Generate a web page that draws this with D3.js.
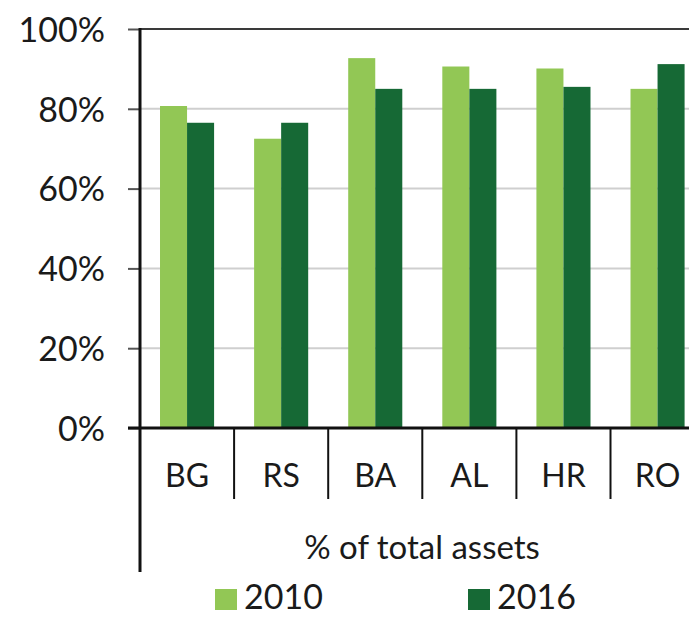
<!DOCTYPE html>
<html>
<head>
<meta charset="utf-8">
<script src="https://cdn.jsdelivr.net/npm/d3@7"></script>
<style>
  body { margin: 0; background: #fff; }
  text { font-family: "Lato", "Noto Sans", sans-serif; fill: #1a1a1a; }
</style>
</head>
<body>
<div id="chart"></div>
<script>
// data
const categories = ["BG", "RS", "BA", "AL", "HR", "RO"];
const seriesNames = ["2010", "2016"];
const values2010 = [80.7, 72.5, 92.7, 90.6, 90.1, 85.0];
const values2016 = [76.5, 76.5, 85.0, 85.0, 85.5, 91.2];
const yTicks = [0, 20, 40, 60, 80, 100];
const xTitle = "% of total assets";

const colors = { "2010": "#92c755", "2016": "#166935" };

function drawChart() {
  const width = 689, height = 617;
  const margin = { top: 29, left: 140, bottom: 189 };
  const plotBottom = height - margin.bottom; // 428

  const svg = d3.select("#chart").append("svg")
    .attr("width", width)
    .attr("height", height);

  const rows = categories.map((c, i) => ({ cat: c, "2010": values2010[i], "2016": values2016[i] }));

  const y = d3.scaleLinear().domain([0, 100]).range([plotBottom, margin.top]);

  // bands are 94px wide; the last one runs past the right edge
  const step = 94.1;
  const x = d3.scaleBand()
    .domain(categories)
    .range([margin.left, margin.left + step * categories.length])
    .padding(0);

  const xInner = d3.scaleBand()
    .domain(seriesNames)
    .range([0, x.bandwidth()])
    .paddingInner(0)
    .paddingOuter(0.74);

  // gridlines
  svg.append("g")
    .selectAll("line")
    .data(yTicks.filter(t => t > 0))
    .join("line")
    .attr("x1", margin.left)
    .attr("x2", width)
    .attr("y1", d => y(d))
    .attr("y2", d => y(d))
    .attr("stroke", d => d === 100 ? "#3a3a3a" : "#cfcfcf")
    .attr("stroke-width", 2);

  // bars
  svg.append("g")
    .selectAll("g")
    .data(rows)
    .join("g")
    .attr("transform", d => `translate(${x(d.cat)},0)`)
    .selectAll("rect")
    .data(d => seriesNames.map(s => ({ key: s, value: d[s] })))
    .join("rect")
    .attr("x", d => xInner(d.key))
    .attr("width", xInner.bandwidth())
    .attr("y", d => y(d.value))
    .attr("height", d => y(0) - y(d.value))
    .attr("fill", d => colors[d.key]);

  // y axis
  const yAxis = svg.append("g")
    .attr("transform", `translate(${margin.left},0)`)
    .call(d3.axisLeft(y).tickValues(yTicks).tickFormat(d => d + "%").tickSize(12).tickPadding(23));
  yAxis.select(".domain").remove();
  yAxis.selectAll(".tick line").attr("stroke", "#555").attr("stroke-width", 2);
  yAxis.selectAll(".tick text")
    .attr("font-size", 34)
    .attr("dy", "0.36em")
    .attr("fill", "#1a1a1a");

  // left axis line running down through the label area
  svg.append("line")
    .attr("x1", margin.left).attr("x2", margin.left)
    .attr("y1", margin.top - 1).attr("y2", 572)
    .attr("stroke", "#111").attr("stroke-width", 3);

  // baseline
  svg.append("line")
    .attr("x1", margin.left - 12).attr("x2", width)
    .attr("y1", plotBottom).attr("y2", plotBottom)
    .attr("stroke", "#111").attr("stroke-width", 3);

  // category separators
  svg.append("g")
    .selectAll("line")
    .data(categories.slice(1))
    .join("line")
    .attr("x1", d => x(d)).attr("x2", d => x(d))
    .attr("y1", plotBottom).attr("y2", 499)
    .attr("stroke", "#111").attr("stroke-width", 2);

  // category labels
  svg.append("g")
    .selectAll("text")
    .data(categories)
    .join("text")
    .attr("x", d => x(d) + x.bandwidth() / 2)
    .attr("y", 475)
    .attr("dy", "0.36em")
    .attr("text-anchor", "middle")
    .attr("font-size", 32)
    .text(d => d);

  // axis title
  svg.append("text")
    .attr("x", 422)
    .attr("y", 547)
    .attr("dy", "0.36em")
    .attr("text-anchor", "middle")
    .attr("font-size", 33)
    .text(xTitle);

  // legend
  const legendX = [215, 468];
  const legend = svg.append("g")
    .selectAll("g")
    .data(seriesNames)
    .join("g")
    .attr("transform", (d, i) => `translate(${legendX[i]},589)`);
  legend.append("rect")
    .attr("width", 22).attr("height", 21)
    .attr("fill", d => colors[d]);
  legend.append("text")
    .attr("x", 29)
    .attr("y", 20)
    .attr("font-size", 34)
    .text(d => d);
}

document.addEventListener("DOMContentLoaded", drawChart);
</script>
</body>
</html>
